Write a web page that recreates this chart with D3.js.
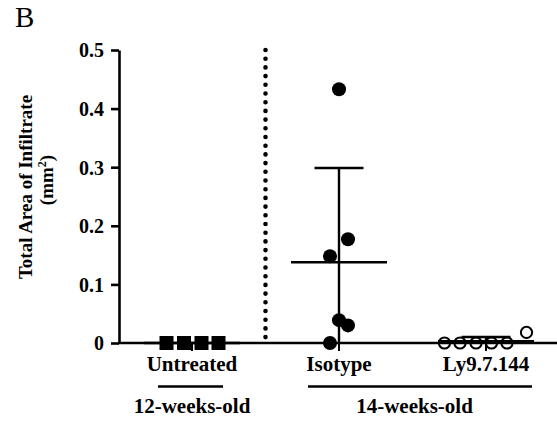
<!DOCTYPE html>
<html>
<head>
<meta charset="utf-8">
<script src="https://cdn.jsdelivr.net/npm/d3@7"></script>
<style>
  body { margin: 0; background: #fff; }
  text { font-family: "Liberation Serif", "Times New Roman", serif; fill: #000; }
</style>
</head>
<body>
<div id="chart"></div>
<script>
// data
const categories = ["Untreated", "Isotype", "Ly9.7.144"];
const untreated = [0, 0, 0, 0];
const isotype = [0.433, 0.177, 0.148, 0.039, 0.030, 0];
const ly9 = [0, 0, 0, 0, 0, 0.018];
const yTicks = [0, 0.1, 0.2, 0.3, 0.4, 0.5];
const ageGroups = ["12-weeks-old", "14-weeks-old"];
const ageMembers = [["Untreated"], ["Isotype", "Ly9.7.144"]];

// layout (not data): horizontal scatter offsets in px, marker shapes
const jitter = [
  [-25.5, -8, 9.5, 26.5],
  [0, 9, -9, 0, 9, -9],
  [-41.5, -26, -10, 5.5, 21, 40.5]
];
const shapes = ["square", "filled", "open"];
const series = [untreated, isotype, ly9];

var width = 557, height = 423;
var svg = d3.select("#chart").append("svg")
    .attr("width", width).attr("height", height);

var y = d3.scaleLinear().domain([0, 0.5]).range([343, 50]);
var x = d3.scalePoint().domain(categories).range([192, 486]);
var axisX = 119;

// y axis
var yAxis = svg.append("g")
    .attr("transform", "translate(" + axisX + ",0)")
    .call(d3.axisLeft(y).tickValues(yTicks).tickSize(8).tickSizeOuter(0)
      .tickPadding(7).tickFormat(function (d) { return d === 0 ? "0" : d3.format(".1f")(d); }));
yAxis.select(".domain").attr("stroke-width", 2.6);
yAxis.selectAll(".tick line").attr("stroke-width", 2.6);
yAxis.selectAll(".tick text")
    .style("font-family", "Liberation Serif").style("font-weight", "bold")
    .style("font-size", "20px").attr("dy", "0.34em");

// x axis baseline to the right edge
svg.append("line")
    .attr("x1", axisX - 1).attr("x2", width)
    .attr("y1", y(0)).attr("y2", y(0))
    .attr("stroke", "#000").attr("stroke-width", 2.6);

// category ticks below the axis
svg.selectAll(".ctick").data(categories).enter().append("line")
    .attr("x1", function (d) { return x(d); }).attr("x2", function (d) { return x(d); })
    .attr("y1", y(0)).attr("y2", y(0) + 8)
    .attr("stroke", "#000").attr("stroke-width", 2);

// dotted divider between the age groups
var divX = (x(categories[0]) + x(categories[1])) / 2;
svg.append("line")
    .attr("x1", divX).attr("x2", divX)
    .attr("y1", y(0.5)).attr("y2", y(0) - 2)
    .attr("stroke", "#000").attr("stroke-width", 4.6)
    .attr("stroke-linecap", "round")
    .attr("stroke-dasharray", "0 8.7");

// mean and SD bars
series.forEach(function (vals, i) {
  var cx = x(categories[i]);
  var m = d3.mean(vals), sd = d3.deviation(vals);
  var g = svg.append("g").attr("stroke", "#000").attr("stroke-width", 2.4);
  g.append("line").attr("x1", cx - 48).attr("x2", cx + 48)
    .attr("y1", y(m)).attr("y2", y(m));
  if (sd > 0) {
    g.append("line").attr("x1", cx).attr("x2", cx)
      .attr("y1", y(m + sd)).attr("y2", y(Math.max(0, m - sd)));
    g.append("line").attr("x1", cx - 24.5).attr("x2", cx + 24.5)
      .attr("y1", y(m + sd)).attr("y2", y(m + sd));
  }
});

// points
series.forEach(function (vals, i) {
  var cx = x(categories[i]);
  var pts = vals.map(function (v, j) { return { v: v, dx: jitter[i][j] }; });
  if (shapes[i] === "square") {
    svg.selectAll(".sq").data(pts).enter().append("rect")
      .attr("x", function (d) { return cx + d.dx - 7; })
      .attr("y", function (d) { return y(d.v) - 7; })
      .attr("width", 14).attr("height", 14).attr("fill", "#000");
  } else {
    var open = shapes[i] === "open";
    svg.append("g").selectAll("circle").data(pts).enter().append("circle")
      .attr("cx", function (d) { return cx + d.dx; })
      .attr("cy", function (d) { return y(d.v); })
      .attr("r", open ? 5.6 : 7)
      .attr("fill", open ? "#fff" : "#000")
      .attr("fill-opacity", open ? 0 : 1)
      .attr("stroke", "#000").attr("stroke-width", open ? 2 : 0);
  }
});

// category labels
svg.selectAll(".clab").data(categories).enter().append("text")
    .attr("x", function (d) { return x(d); }).attr("y", 371)
    .attr("text-anchor", "middle")
    .style("font-weight", "bold").style("font-size", "21px")
    .text(function (d) { return d; });

// age group underline + label
var pads = [[34, 31], [31, 46]];
ageGroups.forEach(function (lab, i) {
  var first = x(ageMembers[i][0]), last = x(ageMembers[i][ageMembers[i].length - 1]);
  svg.append("line")
    .attr("x1", first - pads[i][0]).attr("x2", last + pads[i][1])
    .attr("y1", 386.5).attr("y2", 386.5)
    .attr("stroke", "#000").attr("stroke-width", 2.6);
  svg.append("text")
    .attr("x", (first + last) / 2 + (i === 1 ? 2 : 0)).attr("y", 413)
    .attr("text-anchor", "middle")
    .style("font-weight", "bold").style("font-size", "21px")
    .text(lab);
});

// y axis title
svg.append("text")
    .attr("transform", "translate(32,187) rotate(-90)")
    .attr("text-anchor", "middle")
    .style("font-weight", "bold").style("font-size", "19px")
    .text("Total Area of Infiltrate");
var unit = svg.append("text")
    .attr("transform", "translate(53,180) rotate(-90)")
    .attr("text-anchor", "middle")
    .style("font-weight", "bold").style("font-size", "19px");
unit.append("tspan").text("(mm");
unit.append("tspan").attr("baseline-shift", "super").style("font-size", "12px").text("2");
unit.append("tspan").text(")");

// panel letter
svg.append("text")
    .attr("x", 15).attr("y", 27)
    .style("font-size", "29px")
    .text("B");
</script>
</body>
</html>
